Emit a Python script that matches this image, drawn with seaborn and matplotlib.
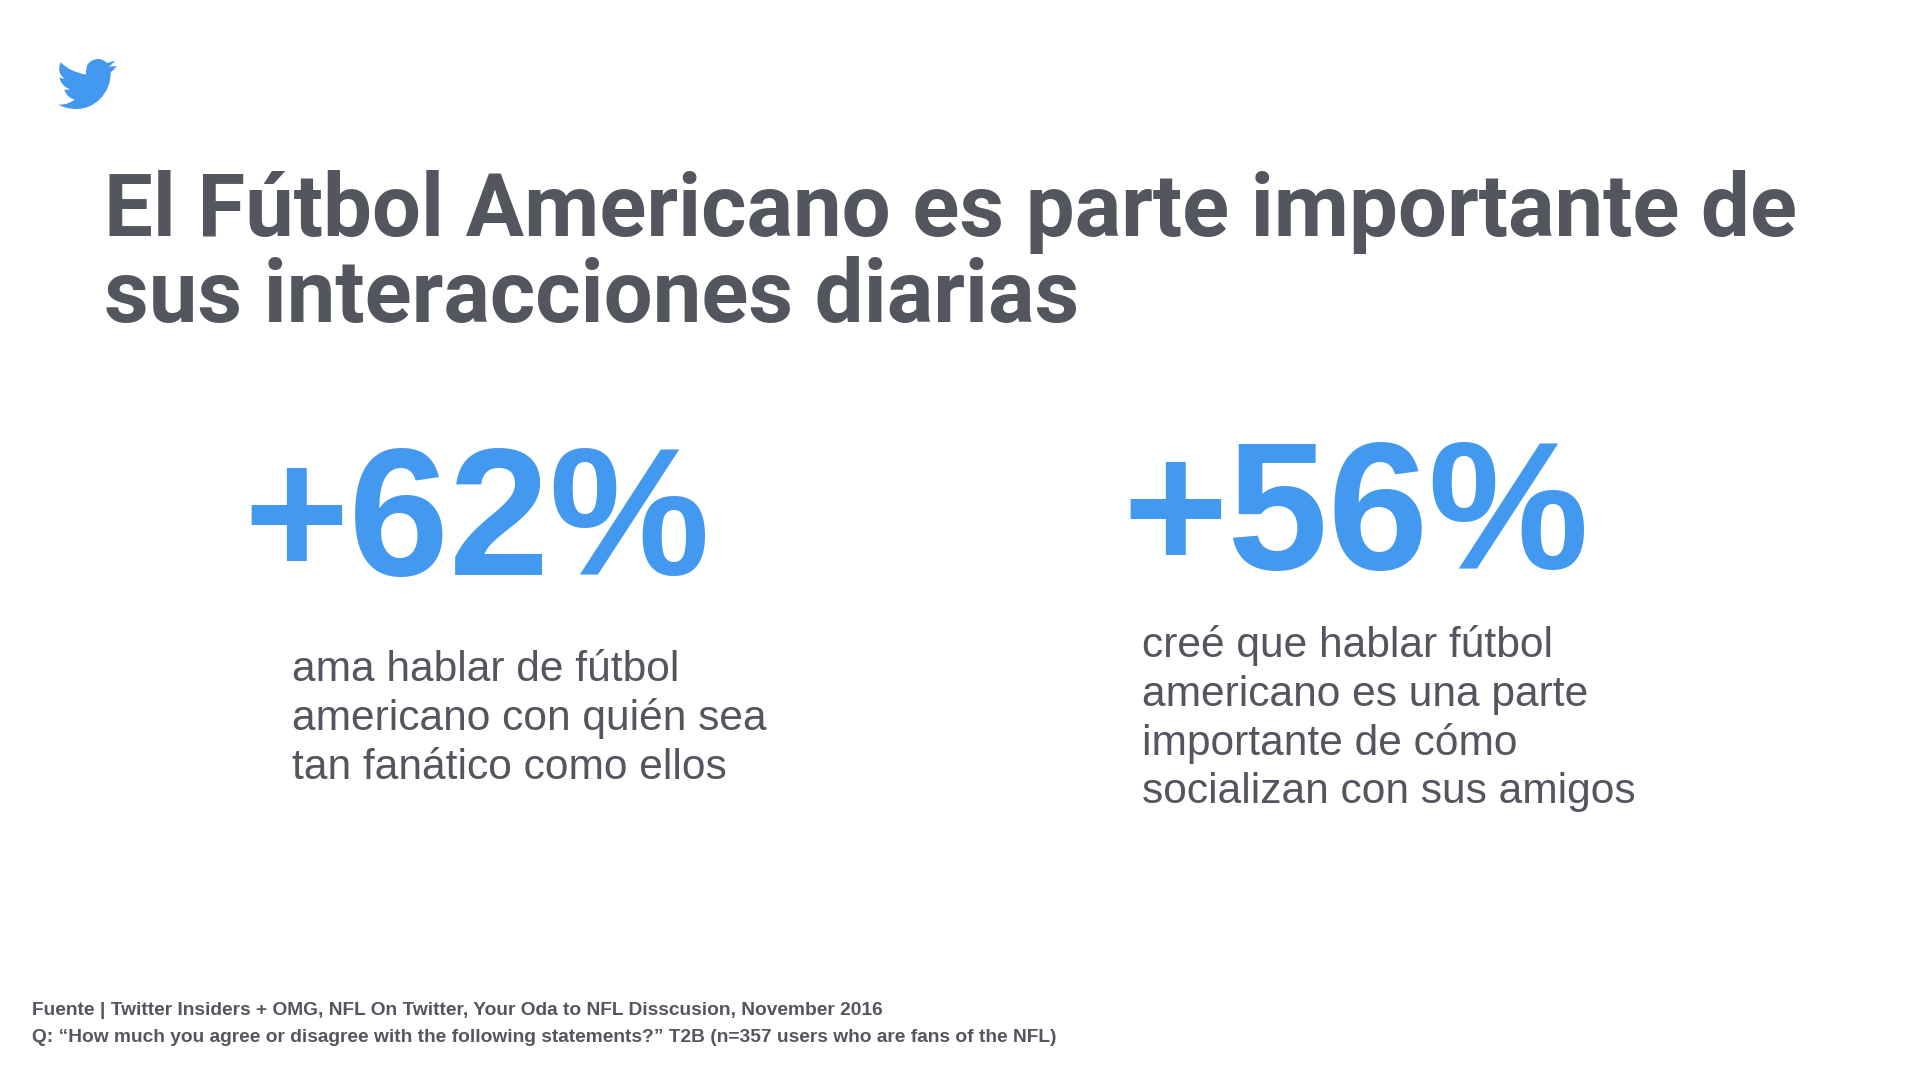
import matplotlib
matplotlib.use("Agg")
import matplotlib.pyplot as plt
import seaborn as sns
from matplotlib.path import Path
from matplotlib.patches import PathPatch

sns.set_theme(style="white")
plt.rcParams['font.family'] = ['Liberation Sans', 'DejaVu Sans']

title_lines = ["El Fútbol Americano es parte importante de", "sus interacciones diarias"]
stat_values = ["+62%", "+56%"]
left_desc = ["ama hablar de fútbol", "americano con quién sea", "tan fanático como ellos"]
right_desc = ["creé que hablar fútbol", "americano es una parte", "importante de cómo", "socializan con sus amigos"]
source_lines = ["Fuente | Twitter Insiders + OMG, NFL On Twitter, Your Oda to NFL Disscusion, November 2016",
                "Q: “How much you agree or disagree with the following statements?” T2B (n=357 users who are fans of the NFL)"]

GREY = "#53565e"
BLUE = "#4299ef"

fig = plt.figure(figsize=(19.2, 10.8), dpi=100, facecolor="white")
ax = fig.add_axes([0, 0, 1, 1])
ax.set_xlim(0, 1920)
ax.set_ylim(1080, 0)
ax.axis("off")

def t(x, y, s, size, color=GREY, weight="normal", family=None):
    ax.text(x, y, s, fontsize=size, color=color, fontweight=weight, va="baseline", ha="left",
            family=family or ['Liberation Sans', 'DejaVu Sans'])

t(104, 236, title_lines[0], 62.6, weight="bold", family=['Roboto', 'DejaVu Sans'])
t(104, 322, title_lines[1], 62.6, weight="bold", family=['Roboto', 'DejaVu Sans'])
t(243, 575, stat_values[0], 130, BLUE, "bold")
t(1127 - 5, 569, stat_values[1], 130, BLUE, "bold")
for i, s in enumerate(left_desc):
    t(292, 681 + i * 49, s, 30.6)
for i, s in enumerate(right_desc):
    t(1142, 657 + i * 48.8, s, 30.6)
t(32, 1015, source_lines[0], 13.75, weight="bold")
t(32, 1042, source_lines[1], 13.75, weight="bold")

# Twitter bird logo
M, L, C = Path.MOVETO, Path.LINETO, Path.CURVE3
logo = [
    ((60.7, 62.3), M),
    ((70, 72), C), ((86, 74.5), C),
    ((85, 60), C), ((98, 59), C),
    ((103, 59), C), ((107, 63), C),
    ((115, 60.7), L),
    ((113, 64), C), ((108.7, 66.5), C),
    ((113, 66.5), C), ((116.7, 66), C),
    ((114, 70), C), ((110.7, 72.3), C),
    ((111, 88), C), ((100, 99), C),
    ((90, 109), C), ((77, 109), C),
    ((66, 109), C), ((58.3, 104.7), C),
    ((68, 105), C), ((74.5, 99.5), C),
    ((67, 98), C), ((64.3, 89.3), C),
    ((67, 90), C), ((70, 89.3), C),
    ((61, 86), C), ((59.3, 77.3), C),
    ((62, 78.7), C), ((64.3, 78.7), C),
    ((56, 72), C), ((60.7, 62.3), C),
]
verts = [p for p, _ in logo]
codes = [c for _, c in logo]
ax.add_patch(PathPatch(Path(verts, codes), fc=BLUE, ec="none"))

fig.savefig("out.png", dpi=100)
